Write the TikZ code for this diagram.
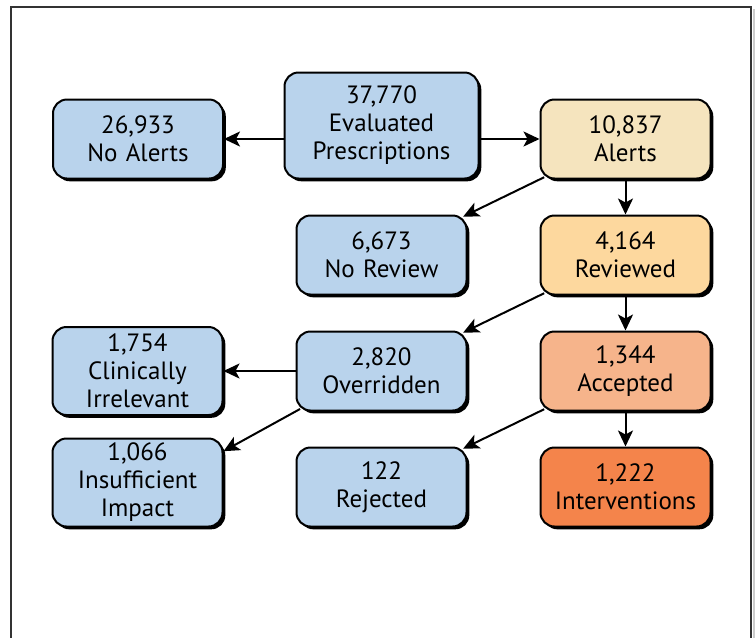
\documentclass[tikz,border=0pt]{standalone}
\usepackage{fontspec}
\setmainfont{PT Sans}
\usetikzlibrary{arrows.meta,positioning,shapes,shadows}
\definecolor{boxblue}{RGB}{185,211,236}
\definecolor{boxtan}{RGB}{245,228,190}
\definecolor{boxorange}{RGB}{253,216,158}
\definecolor{boxpeach}{RGB}{246,180,139}
\definecolor{boxred}{RGB}{244,132,75}

\begin{document}
\begin{tikzpicture}[node distance=17.5pt and 36pt]
\tikzset{
    %grot
    >={Stealth[length=8pt,width=7.5pt,inset=2pt]},
    %pudelko
    blok/.style={
           rectangle, rounded corners=7pt,
           inner sep=2pt,
           line width=1pt,draw=black,
           fill=boxblue,
           drop shadow={shadow xshift=1.4pt,shadow yshift=-1.4pt,fill=black,opacity=1},
           text width=81pt,
           minimum width=85pt,
           minimum height=39.5pt,
           font=\fontsize{12.5}{14}\selectfont,
           text centered},
    blokw/.style={blok, minimum height=44pt},
    strz/.style={->, line width=1pt},
    skos/.style={strz, shorten <=-2.6pt, shorten >=-2.4pt}
}
\useasboundingbox (0,0) rectangle (378pt,-319pt);
%ramka
\draw[black!80, line width=0.6pt] (5.5pt,-319pt) |- (375.5pt,-3.5pt) -- (375.5pt,-319pt);
\draw[black!20, line width=1.2pt] (377pt,-4.5pt) -- (377pt,-319pt);

%NODy
\node(alr)   [blok,fill=boxtan] at (312.75pt,-69.5pt)   {10,837\\Alerts};
\node(rev)   [blok,fill=boxorange,below=of alr]   {4,164\\Reviewed};
\node(acc)   [blok,fill=boxpeach,below=of rev]    {1,344\\Accepted};
\node(intv)  [blok,fill=boxred,below=of acc]      {1,222\\Interventions};

\node(norev) [blok,left=of rev]     {6,673\\No Review};
\node(ovr)   [blok,left=of acc]     {2,820\\Overridden};
\node(rej)   [blok,left=of intv]    {122\\Rejected};

\node(clin)  [blokw,left=of ovr]    {1,754\\Clinically\\Irrelevant};
\node(insuf) [blokw,left=of rej.south west,anchor=south east] {1,066\\Insufficient\\Impact};

\node(evp)   [blok,text width=93pt,minimum width=97pt,minimum height=53pt,left=30pt of alr.south west,anchor=south east] {37,770\\Evaluated\\Prescriptions};
\node(noal)  [blok,left=29.75pt of evp.south west,anchor=south east] {26,933\\No Alerts};

%strzalki
\draw[strz] (evp.west |- noal) -- (noal);
\draw[strz] (evp.east |- alr) -- (alr);
\draw[strz] (alr) -- (rev);
\draw[strz] (rev) -- (acc);
\draw[strz] (acc) -- (intv);
\draw[skos] (alr.south west) -- (norev.north east);
\draw[skos] (rev.south west) -- (ovr.north east);
\draw[skos] (acc.south west) -- (rej.north east);
\draw[strz] (ovr) -- (clin);
\draw[strz,shorten <=-2.6pt] (ovr.south west) -- (insuf.20);
\end{tikzpicture}
\end{document}
